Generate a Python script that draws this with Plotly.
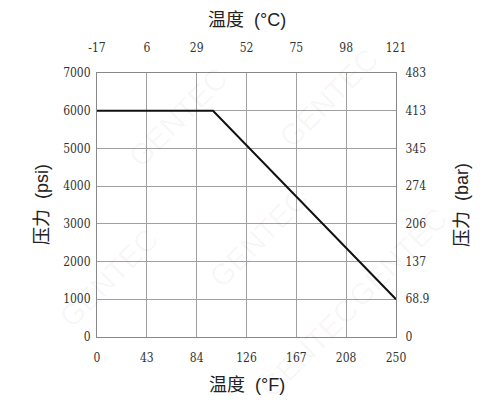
import plotly.graph_objects as go

# rated pressure vs temperature
temp_f = [0, 97, 250]
pressure_psi = [6000, 6000, 1000]

f_ticks = ["0", "43", "84", "126", "167", "208", "250"]
c_ticks = ["-17", "6", "29", "52", "75", "98", "121"]
psi_ticks = [0, 1000, 2000, 3000, 4000, 5000, 6000, 7000]
bar_ticks = ["0", "68.9", "137", "206", "274", "345", "413", "483"]

x_pos = [250 / 6 * i for i in range(len(f_ticks))]

# page has an 8px body margin, so the figure is placed 8px lower/right
L, T = 89, 65
PW, PH = 299, 264
W, H = 482, 407
R, B = W - L - PW, H - T - PH

tick_font = dict(family="DejaVu Serif Condensed, Liberation Serif", size=12, color="#333")
title_font = dict(family="Liberation Sans, Noto Sans CJK SC", size=18, color="#222")
grid = "#a0a0a0"

fig = go.Figure()
fig.add_trace(go.Scatter(
    x=temp_f, y=pressure_psi, mode="lines",
    line=dict(color="#111", width=2), showlegend=False, hoverinfo="skip"
))
# invisible trace on secondary axes so they render
fig.add_trace(go.Scatter(
    x=[0, 250], y=[0, 7000], xaxis="x2", yaxis="y2", mode="markers",
    marker=dict(opacity=0), showlegend=False, hoverinfo="skip"
))

axis_common = dict(showgrid=True, gridcolor=grid, gridwidth=1, zeroline=False,
                   showline=True, linecolor="#888", linewidth=1, mirror=False,
                   ticks="", tickfont=tick_font, automargin=False)

fig.update_layout(
    width=W, height=H,
    margin=dict(l=L, r=R, t=T, b=B),
    paper_bgcolor="white", plot_bgcolor="white",
    xaxis=dict(range=[0, 250], tickmode="array", tickvals=x_pos, ticktext=f_ticks,
               ticklabelstandoff=10, **axis_common),
    xaxis2=dict(range=[0, 250], tickmode="array", tickvals=x_pos, ticktext=c_ticks,
                overlaying="x", side="top", ticklabelstandoff=15, **axis_common),
    yaxis=dict(range=[0, 7000], tickmode="array", tickvals=psi_ticks,
               ticktext=[str(v) for v in psi_ticks], ticklabelstandoff=3, **axis_common),
    yaxis2=dict(range=[0, 7000], tickmode="array", tickvals=psi_ticks, ticktext=bar_ticks,
                overlaying="y", side="right", ticklabelstandoff=6, **axis_common),
)

annotations = [
    dict(text="温度  (°C)", x=0.5, y=1, yshift=53, xref="paper", yref="paper",
         yanchor="middle", showarrow=False, font=title_font),
    dict(text="温度  (°F)", x=0.5, y=0, yshift=-48, xref="paper", yref="paper",
         yanchor="middle", showarrow=False, font=title_font),
    dict(text="压力  (psi)", x=0, y=0.5, xshift=-55, xref="paper", yref="paper",
         xanchor="center", showarrow=False, textangle=-90, font=title_font),
    dict(text="压力  (bar)", x=1, y=0.5, xshift=66, xref="paper", yref="paper",
         xanchor="center", showarrow=False, textangle=-90, font=title_font),
]

# faint watermark, centres in page pixels (before the 8px shift)
marks = [(170, 110), (320, 90), (100, 270), (250, 230), (390, 250), (300, 340)]
for mx, my in marks:
    annotations.append(dict(text="GENTEC", x=(mx - L) / PW, y=(H - B - my) / PH,
                            xref="paper", yref="paper", showarrow=False,
                            xanchor="center", yanchor="middle",
                            textangle=-45, font=dict(family="Liberation Sans", size=30,
                                                     color="rgba(0,0,0,0.04)")))

fig.update_layout(annotations=annotations)

fig.write_html("out.html")
